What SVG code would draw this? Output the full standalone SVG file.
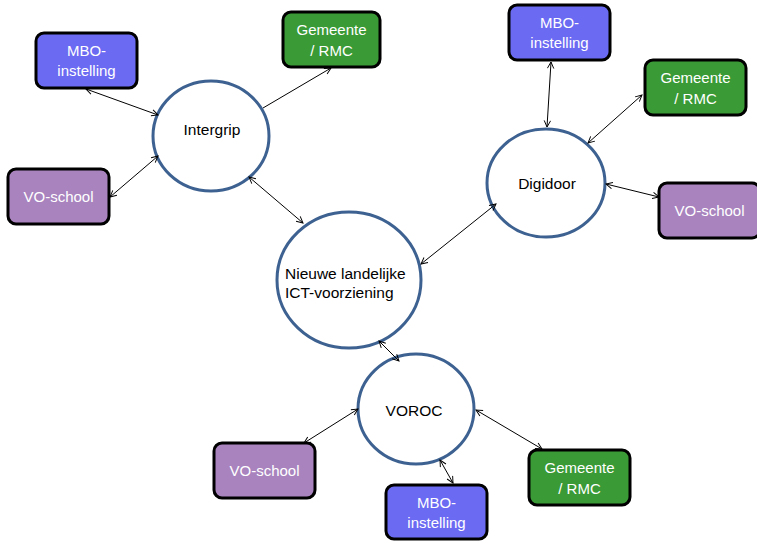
<svg xmlns="http://www.w3.org/2000/svg" width="757" height="541" viewBox="0 0 757 541">
<style>
.hub{fill:#fff;stroke:#3d6190;stroke-width:3}
.box{stroke:#000;stroke-width:3}
.mbo{fill:#6a6af2}
.gem{fill:#3a9a35}
.vo{fill:#a883be}
.bt{font-family:"Liberation Sans",Arial,sans-serif;font-size:15px;fill:#fff;text-anchor:middle}
.ht{font-family:"Liberation Sans",Arial,sans-serif;font-size:15.5px;fill:#000}
.c{stroke:#000;stroke-width:1;fill:none;marker-end:url(#ah)}
.b{marker-start:url(#ah)}
</style>
<defs>
<marker id="ah" viewBox="0 0 10 10" refX="9" refY="5" markerWidth="8" markerHeight="8" markerUnits="userSpaceOnUse" orient="auto-start-reverse">
<path d="M1,1 L9,5 L1,9" fill="none" stroke="#000" stroke-width="1.2"/>
</marker>
</defs>
<g id="intergrip"><ellipse class="hub" cx="211" cy="136" rx="58" ry="55"/><text class="ht" x="212" y="135" text-anchor="middle">Intergrip</text></g>
<g id="digidoor"><ellipse class="hub" cx="546" cy="183" rx="59" ry="54"/><text class="ht" x="547" y="189" text-anchor="middle">Digidoor</text></g>
<g id="ict"><ellipse class="hub" cx="349" cy="280" rx="72" ry="68"/><text class="ht" x="285" y="279">Nieuwe landelijke</text><text class="ht" x="285" y="298">ICT-voorziening</text></g>
<g id="voroc"><ellipse class="hub" cx="416" cy="409" rx="58" ry="55"/><text class="ht" x="414" y="416" text-anchor="middle">VOROC</text></g>
<g id="mbo1"><rect class="box mbo" x="36" y="33" width="101" height="55" rx="8"/><text class="bt" x="86.5" y="56">MBO-</text><text class="bt" x="86.5" y="76">instelling</text></g>
<g id="gem1"><rect class="box gem" x="283" y="12" width="97" height="55" rx="8"/><text class="bt" x="331.5" y="35">Gemeente</text><text class="bt" x="331.5" y="56">/ RMC</text></g>
<g id="vo1"><rect class="box vo" x="8" y="169" width="101" height="55" rx="8"/><text class="bt" x="58.5" y="202">VO-school</text></g>
<g id="mbo2"><rect class="box mbo" x="509" y="5" width="101" height="55" rx="8"/><text class="bt" x="559.5" y="28">MBO-</text><text class="bt" x="559.5" y="48">instelling</text></g>
<g id="gem2"><rect class="box gem" x="645" y="60" width="101" height="55" rx="8"/><text class="bt" x="695.5" y="83">Gemeente</text><text class="bt" x="695.5" y="104">/ RMC</text></g>
<g id="vo2"><rect class="box vo" x="659" y="183" width="101" height="55" rx="8"/><text class="bt" x="709.5" y="216">VO-school</text></g>
<g id="vo3"><rect class="box vo" x="214" y="443" width="101" height="55" rx="8"/><text class="bt" x="264.5" y="476">VO-school</text></g>
<g id="mbo3"><rect class="box mbo" x="386" y="485" width="101" height="54" rx="8"/><text class="bt" x="436.5" y="508">MBO-</text><text class="bt" x="436.5" y="528">instelling</text></g>
<g id="gem3"><rect class="box gem" x="529" y="450" width="101" height="55" rx="8"/><text class="bt" x="579.5" y="473">Gemeente</text><text class="bt" x="579.5" y="494">/ RMC</text></g>
<g id="connectors">
<line class="c b" x1="86" y1="89" x2="158" y2="115"/>
<line class="c" x1="263" y1="108" x2="331" y2="68"/>
<line class="c b" x1="110" y1="197" x2="158" y2="156"/>
<line class="c b" x1="249" y1="177" x2="303" y2="223"/>
<line class="c b" x1="421" y1="264" x2="496" y2="204"/>
<line class="c b" x1="547" y1="127" x2="551" y2="62"/>
<line class="c b" x1="588" y1="143" x2="642" y2="95"/>
<line class="c b" x1="606" y1="184" x2="659" y2="197"/>
<line class="c b" x1="379" y1="341" x2="399" y2="361"/>
<line class="c b" x1="358" y1="409" x2="304" y2="443"/>
<line class="c b" x1="440" y1="460" x2="453" y2="483"/>
<line class="c b" x1="476" y1="410" x2="542" y2="449"/>
</g>
</svg>
